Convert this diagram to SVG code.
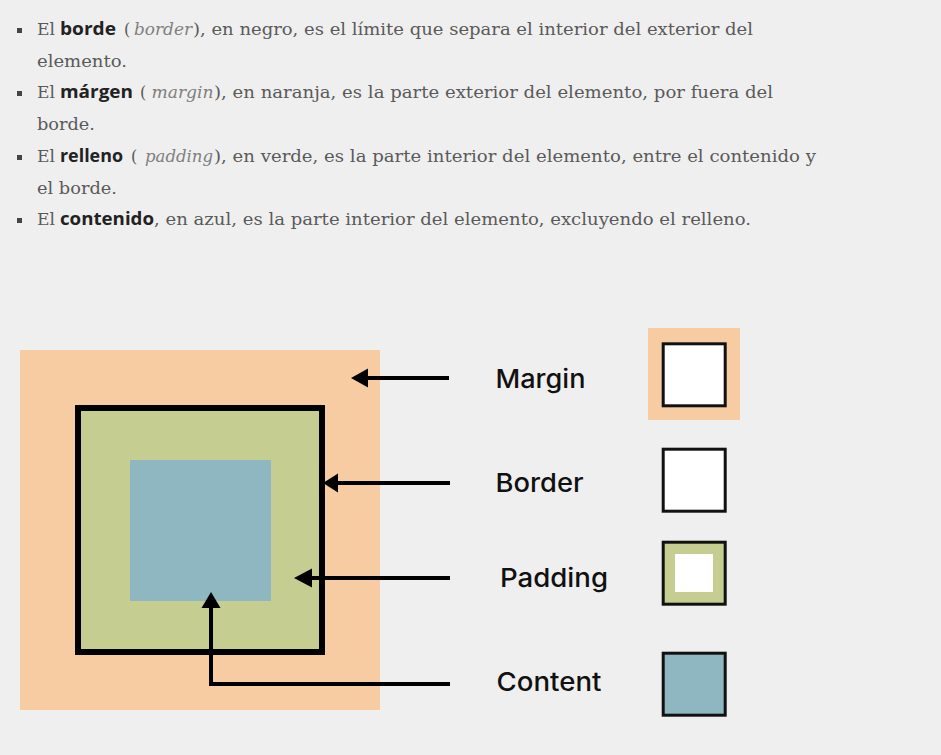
<svg xmlns="http://www.w3.org/2000/svg" width="941" height="755" viewBox="0 0 941 755">
<style>
.t{font-family:"DejaVu Serif","Liberation Serif",serif;font-size:16px;fill:#5a5a5a}
.b{font-family:"Open Sans","Liberation Sans",sans-serif;font-size:17px;font-weight:700;fill:#222}
.i{font-family:"DejaVu Serif","Liberation Serif",serif;font-size:16px;font-style:italic;fill:#808080}
.lbl{font-family:Inter,"Open Sans","Liberation Sans",sans-serif;font-size:26px;font-weight:500;fill:#111}
.bul{fill:#444}
.ln{stroke:#000;stroke-width:4;fill:none}
.hd{fill:#000}
.sw{stroke:#111;stroke-width:3}
</style>
<rect x="0" y="0" width="941" height="755" fill="#efefef"/>
<g id="text">
<rect class="bul" x="17" y="28" width="5" height="5"/>
<text y="35"><tspan class="t" x="37" textLength="18" lengthAdjust="spacingAndGlyphs">El</tspan><tspan class="b" x="60" textLength="56" lengthAdjust="spacingAndGlyphs">borde</tspan><tspan class="t" x="124">(</tspan><tspan class="i" x="134" textLength="58" lengthAdjust="spacingAndGlyphs">border</tspan><tspan class="t" x="193" textLength="560" lengthAdjust="spacingAndGlyphs">), en negro, es el límite que separa el interior del exterior del</tspan></text>
<text class="t" x="37" y="67" textLength="90" lengthAdjust="spacingAndGlyphs">elemento.</text>
<rect class="bul" x="17" y="91" width="5" height="5"/>
<text y="98"><tspan class="t" x="37" textLength="18" lengthAdjust="spacingAndGlyphs">El</tspan><tspan class="b" x="60" textLength="73" lengthAdjust="spacingAndGlyphs">márgen</tspan><tspan class="t" x="140">(</tspan><tspan class="i" x="151.5" textLength="62" lengthAdjust="spacingAndGlyphs">margin</tspan><tspan class="t" x="214" textLength="559" lengthAdjust="spacingAndGlyphs">), en naranja, es la parte exterior del elemento, por fuera del</tspan></text>
<text class="t" x="37" y="130" textLength="58" lengthAdjust="spacingAndGlyphs">borde.</text>
<rect class="bul" x="17" y="155" width="5" height="5"/>
<text y="162"><tspan class="t" x="37" textLength="18" lengthAdjust="spacingAndGlyphs">El</tspan><tspan class="b" x="60" textLength="63" lengthAdjust="spacingAndGlyphs">relleno</tspan><tspan class="t" x="131">(</tspan><tspan class="i" x="145" textLength="68" lengthAdjust="spacingAndGlyphs">padding</tspan><tspan class="t" x="214" textLength="602" lengthAdjust="spacingAndGlyphs">), en verde, es la parte interior del elemento, entre el contenido y</tspan></text>
<text class="t" x="37" y="194" textLength="80" lengthAdjust="spacingAndGlyphs">el borde.</text>
<rect class="bul" x="17" y="218" width="5" height="5"/>
<text y="225"><tspan class="t" x="37" textLength="18" lengthAdjust="spacingAndGlyphs">El</tspan><tspan class="b" x="60" textLength="94" lengthAdjust="spacingAndGlyphs">contenido</tspan><tspan class="t" x="154" textLength="597" lengthAdjust="spacingAndGlyphs">, en azul, es la parte interior del elemento, excluyendo el relleno.</tspan></text>
</g>
<g id="margin-box"><rect x="20" y="350" width="360" height="360" fill="#f8cca2"/></g>
<g id="border-box"><rect x="78" y="408" width="244" height="244" fill="#c5ce90" stroke="#000" stroke-width="6"/></g>
<g id="content-box"><rect x="130" y="460" width="141" height="141" fill="#8fb7c1"/></g>
<g id="connectors">
<line class="ln" x1="366" y1="378" x2="449" y2="378"/>
<polygon class="hd" points="351,378 368,368.5 368,387.5"/>
<line class="ln" x1="336" y1="483" x2="450" y2="483"/>
<polygon class="hd" points="323,483 338,473.5 338,492.5"/>
<line class="ln" x1="310" y1="578" x2="450" y2="578"/>
<polygon class="hd" points="294,578 312,568.5 312,587.5"/>
<polyline class="ln" points="211,606 211,684 450,684"/>
<polygon class="hd" points="211,592 201.5,608 220.5,608"/>
</g>
<g id="label-margin"><text class="lbl" x="495.5" y="387.7" textLength="90" lengthAdjust="spacingAndGlyphs">Margin</text></g>
<g id="label-border"><text class="lbl" x="495.5" y="492.3" textLength="88" lengthAdjust="spacingAndGlyphs">Border</text></g>
<g id="label-padding"><text class="lbl" x="500" y="586.7" textLength="108" lengthAdjust="spacingAndGlyphs">Padding</text></g>
<g id="label-content"><text class="lbl" x="496.5" y="691" textLength="105" lengthAdjust="spacingAndGlyphs">Content</text></g>
<g id="swatch-margin"><rect x="648" y="328" width="92" height="92" fill="#f8cca2"/><rect class="sw" x="663.2" y="343.8" width="62" height="62" fill="#fff"/></g>
<g id="swatch-border"><rect class="sw" x="663.2" y="449.2" width="62" height="62" fill="#fff"/></g>
<g id="swatch-padding"><rect class="sw" x="663.2" y="542.2" width="62" height="62" fill="#c5ce90"/><rect x="675" y="554" width="38" height="38" fill="#fff"/></g>
<g id="swatch-content"><rect class="sw" x="663.2" y="653.2" width="62" height="62" fill="#8fb7c1"/></g>
</svg>
